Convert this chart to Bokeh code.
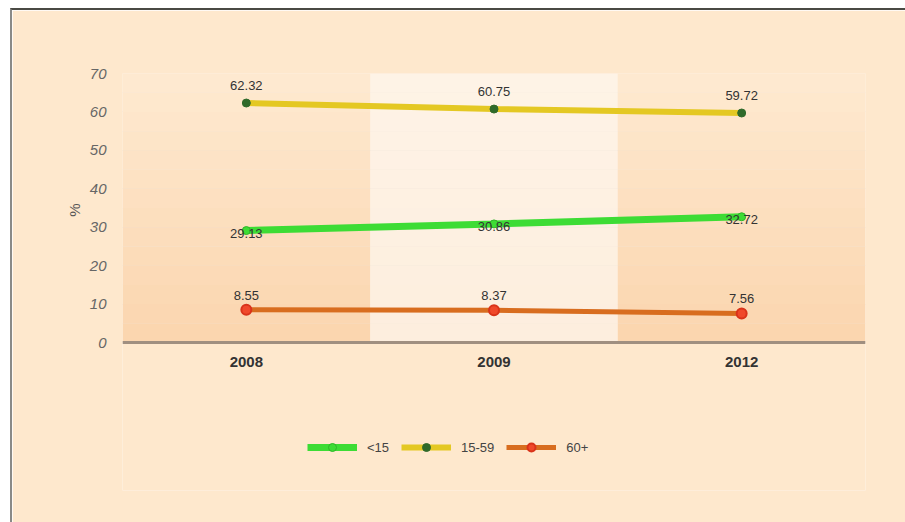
from bokeh.plotting import figure
from bokeh.models import (Legend, LegendItem, BoxAnnotation, Range1d, FactorRange,
                          ColumnDataSource, LabelSet, FixedTicker, Title)
from bokeh.core.properties import value
from bokeh.embed import file_html
from bokeh.resources import INLINE

years = ["2008", "2009", "2012"]
under15 = [29.13, 30.86, 32.72]
mid = [62.32, 60.75, 59.72]
over60 = [8.55, 8.37, 7.56]
y_ticks = [0, 10, 20, 30, 40, 50, 60, 70]

p = figure(frame_width=743, frame_height=417, x_range=FactorRange(*years), y_range=Range1d(-38.5, 70),
           output_backend="svg", toolbar_location=None,
           min_border_left=110, min_border_right=40, min_border_top=63, min_border_bottom=32)
p.styles = {"margin-left": "10px", "margin-top": "8px",
            "border-top": "2px solid #4a4a44", "border-left": "2px solid #8a8a88",
            "border-right": "0px none", "border-bottom": "0px none"}
p.background_fill_color = "#fee8cd"
p.border_fill_color = "#fee8cd"
p.outline_line_color = None

# vertical bands with a soft vertical gradient
n = 14
def mix(c1, c2, t):
    return "#%02x%02x%02x" % tuple(int(round(a + (b - a) * t)) for a, b in zip(c1, c2))
for i in range(n):
    t = i / (n - 1)
    dark = mix((251, 214, 175), (254, 233, 208), t)
    light = mix((253, 238, 222), (254, 243, 230), t)
    y0 = 70 * i / n
    y1 = 70 * (i + 1) / n
    for (l, r, c) in [(0, 1, dark), (1, 2, light), (2, 3, dark)]:
        p.add_layout(BoxAnnotation(left=l, right=r, bottom=y0, top=y1, fill_color=c,
                                   fill_alpha=1, line_color=None, level="underlay"))

src = ColumnDataSource(dict(x=years, a=under15, b=mid, c=over60,
                            la=["%.2f" % v for v in under15],
                            lb=["%.2f" % v for v in mid],
                            lc=["%.2f" % v for v in over60]))

r1 = p.line("x", "a", source=src, line_color="#3ddc35", line_width=7)
r1m = p.scatter("x", "a", source=src, size=8, fill_color="#3ddc35", line_color="#2fb52a")
r2 = p.line("x", "b", source=src, line_color="#e4c823", line_width=6)
r2m = p.scatter("x", "b", source=src, size=8, fill_color="#2f6a2a", line_color="#2f6a2a")
r3 = p.line("x", "c", source=src, line_color="#d86d1f", line_width=5)
r3m = p.scatter("x", "c", source=src, size=10, fill_color="#f0482a", line_color="#d9331a", line_width=2)

common = dict(source=src, text_align="center", text_font_size="13px",
              text_color="#333333", text_font=value("Liberation Sans"))
p.add_layout(LabelSet(x="x", y="a", text="la", y_offset=-3, text_baseline="middle", **common))
p.add_layout(LabelSet(x="x", y="b", text="lb", y_offset=13, text_baseline="bottom", **common))
p.add_layout(LabelSet(x="x", y="c", text="lc", y_offset=10, text_baseline="bottom", **common))

minor = [t + 5 for t in y_ticks[:-1]]
p.xgrid.grid_line_color = None
p.ygrid.grid_line_color = "#e9ddd2"
p.ygrid.grid_line_width = 1
p.ygrid.minor_grid_line_color = "#f3e6da"
p.yaxis.ticker = FixedTicker(ticks=y_ticks, minor_ticks=minor)
p.ygrid.ticker = p.yaxis.ticker
p.yaxis.axis_line_color = None
p.yaxis.major_tick_line_color = None
p.yaxis.minor_tick_line_color = None
p.yaxis.major_label_text_font_style = "italic"
p.yaxis.major_label_text_font = "Liberation Sans"
p.yaxis.major_label_text_font_size = "15px"
p.yaxis.major_label_text_color = "#666666"
p.yaxis.major_label_standoff = 10

ytitle = Title(text="%", align="right", offset=130, text_font="Liberation Sans",
               text_font_size="15px", text_font_style="normal", text_color="#555555",
               standoff=8)
p.add_layout(ytitle, "left")

p.xaxis.fixed_location = 0
p.xaxis.axis_line_color = "#a08f80"
p.xaxis.axis_line_width = 3
p.xaxis.major_tick_line_color = None
p.xaxis.minor_tick_line_color = None
p.xaxis.major_label_text_font = "Liberation Sans"
p.xaxis.major_label_text_font_style = "bold"
p.xaxis.major_label_text_font_size = "15px"
p.xaxis.major_label_text_color = "#333333"
p.xaxis.major_label_standoff = 8

legend = Legend(items=[LegendItem(label="<15", renderers=[r1, r1m]),
                       LegendItem(label="15-59", renderers=[r2, r2m]),
                       LegendItem(label="60+", renderers=[r3, r3m])],
                orientation="horizontal", location=(185, 33), margin=0, padding=0,
                background_fill_alpha=0, border_line_color=None,
                label_text_font="Liberation Sans", label_text_font_size="13px",
                label_text_color="#444444", glyph_width=50, label_standoff=10, spacing=12)
p.add_layout(legend, "center")

open("out.html", "w").write(file_html(p, INLINE))
